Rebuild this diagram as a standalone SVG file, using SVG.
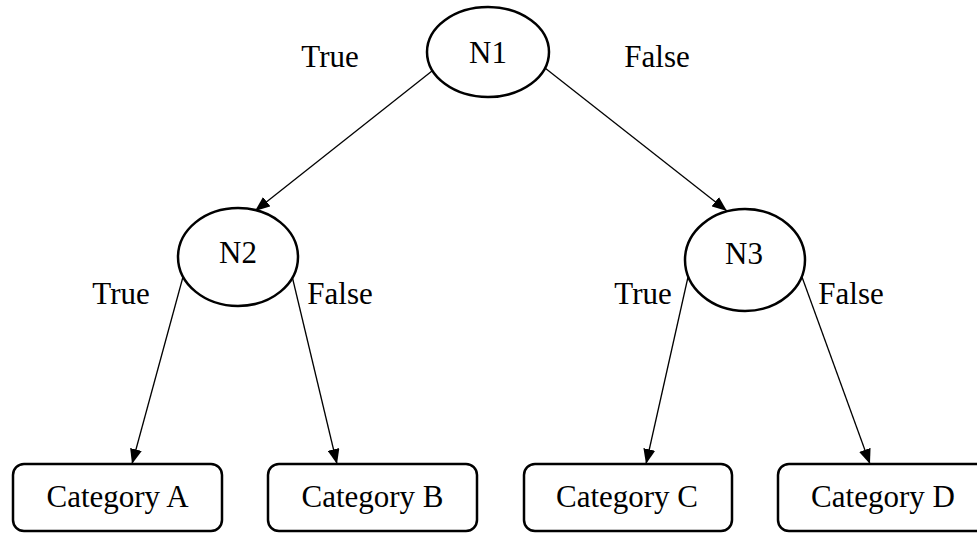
<svg xmlns="http://www.w3.org/2000/svg" width="977" height="533" viewBox="0 0 977 533">
  <style>
    .node { fill: #fff; stroke: #000; stroke-width: 2.5; }
    .edge { stroke: #000; stroke-width: 1.3; fill: none; }
    text { font-family: "Liberation Serif", "Times New Roman", serif; font-size: 31px; fill: #000; text-anchor: middle; }
  </style>
  <defs>
    <marker id="arrow" markerUnits="userSpaceOnUse" markerWidth="15" markerHeight="12" refX="15" refY="6" orient="auto">
      <path d="M0,0 L15,6 L0,12 z" fill="#000"/>
    </marker>
  </defs>
  <rect width="977" height="533" fill="#fff"/>
  <g id="connectors">
    <line class="edge" x1="432" y1="71" x2="255" y2="211" marker-end="url(#arrow)"/>
    <line class="edge" x1="545" y1="68" x2="727" y2="211" marker-end="url(#arrow)"/>
    <line class="edge" x1="183.5" y1="275" x2="132" y2="464" marker-end="url(#arrow)"/>
    <line class="edge" x1="292.5" y1="278" x2="337" y2="464" marker-end="url(#arrow)"/>
    <line class="edge" x1="688" y1="277" x2="646" y2="464" marker-end="url(#arrow)"/>
    <line class="edge" x1="802" y1="277" x2="870" y2="464" marker-end="url(#arrow)"/>
  </g>
  <g id="labels">
    <text x="330" y="67">True</text>
    <text x="657" y="67">False</text>
    <text x="121" y="304">True</text>
    <text x="340" y="304">False</text>
    <text x="643" y="304">True</text>
    <text x="851" y="304">False</text>
  </g>
  <g id="N1">
    <ellipse class="node" cx="488" cy="52" rx="61" ry="45"/>
    <text x="488" y="63">N1</text>
  </g>
  <g id="N2">
    <ellipse class="node" cx="238" cy="257" rx="60" ry="49"/>
    <text x="238" y="263">N2</text>
  </g>
  <g id="N3">
    <ellipse class="node" cx="745" cy="260" rx="60" ry="51"/>
    <text x="744" y="264">N3</text>
  </g>
  <g id="catA">
    <rect class="node" x="13" y="464" width="209" height="67" rx="11"/>
    <text x="117.5" y="507">Category A</text>
  </g>
  <g id="catB">
    <rect class="node" x="268" y="464" width="209" height="67" rx="11"/>
    <text x="372.5" y="507">Category B</text>
  </g>
  <g id="catC">
    <rect class="node" x="524" y="464" width="208" height="67" rx="11"/>
    <text x="627" y="507">Category C</text>
  </g>
  <g id="catD">
    <rect class="node" x="778" y="464" width="210" height="67" rx="11"/>
    <text x="883" y="507">Category D</text>
  </g>
</svg>
